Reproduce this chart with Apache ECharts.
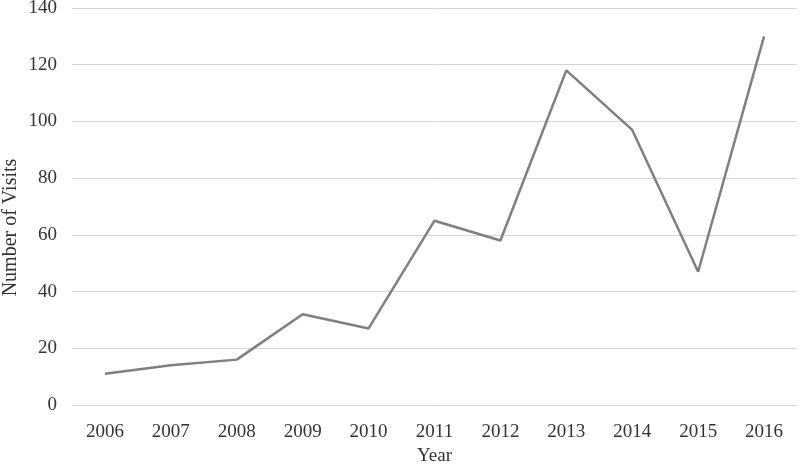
<!DOCTYPE html>
<html>
<head>
<meta charset="utf-8">
<script src="https://cdn.jsdelivr.net/npm/echarts@6/dist/echarts.min.js"></script>
<style>
  html, body { margin: 0; padding: 0; background: #fff; }
  #chart { width: 800px; height: 465px; }
</style>
</head>
<body>
<div id="chart"></div>
<script>
const years = ['2006', '2007', '2008', '2009', '2010', '2011', '2012', '2013', '2014', '2015', '2016']
const visits = [11, 14, 16, 32, 27, 65, 58, 118, 97, 47, 130]

const font = '"Liberation Serif", "Times New Roman", serif'
const chart = echarts.init(document.getElementById('chart'))

chart.setOption({
  animation: false,
  textStyle: { fontFamily: font },
  grid: { left: 72, right: 3, top: 8, bottom: 60, outerBoundsMode: 'none' },
  xAxis: {
    type: 'category',
    data: years,
    boundaryGap: true,
    name: 'Year',
    nameLocation: 'middle',
    nameGap: 36,
    nameTextStyle: { fontFamily: font, fontSize: 19, color: '#333' },
    axisLine: { show: false },
    axisTick: { show: false },
    axisLabel: { fontFamily: font, fontSize: 19, color: '#333', margin: 18 },
  },
  yAxis: {
    type: 'value',
    min: 0,
    max: 140,
    interval: 20,
    name: 'Number of Visits',
    nameLocation: 'middle',
    nameMoveOverlap: false,
    nameGap: 51,
    nameTextStyle: { fontFamily: font, fontSize: 20, color: '#333', padding: [0, 42, 0, 0] },
    axisLine: { show: false },
    axisTick: { show: false },
    axisLabel: { fontFamily: font, fontSize: 19, color: '#333', margin: 15 },
    splitLine: { lineStyle: { color: '#d4d4d4', width: 1 } },
  },
  series: [{
    type: 'line',
    data: visits,
    symbol: 'none',
    lineStyle: { color: '#7f7f7f', width: 2.5 },
  }],
})
</script>
</body>
</html>
